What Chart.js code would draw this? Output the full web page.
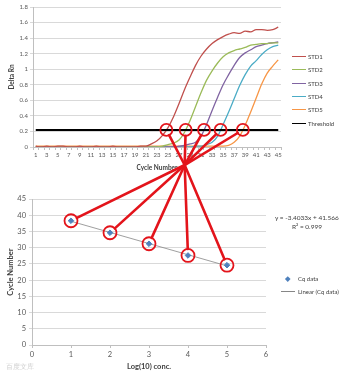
<!DOCTYPE html>
<html>
<head>
<meta charset="utf-8">
<script src="https://cdn.jsdelivr.net/npm/chart.js@4.4.1/dist/chart.umd.min.js"></script>
<style>
  body { margin: 0; background: #fff; font-family: Lato, "Open Sans", sans-serif; }
  #wrap { position: relative; width: 354px; height: 377px; overflow: hidden; }
  #amp { position: absolute; left: 0; top: 0; }
  #std { position: absolute; left: 0; top: 180px; }
  #marks { position: absolute; left: 0; top: 0; pointer-events: none; }
  .leg { position: absolute; font-size: 6px; color: #404040; line-height: 8px; white-space: nowrap; }
  .leg i { position: absolute; left: -16px; top: 3px; width: 14px; height: 0; border-top: 1.5px solid; }
  .eq { position: absolute; font-size: 6.5px; color: #404040; white-space: nowrap; line-height: 8px; }
  .mark { position: absolute; font-size: 7px; color: #d0d0d0; }
</style>
</head>
<body>
<div id="wrap">
  <canvas id="amp" width="354" height="180"></canvas>
  <canvas id="std" width="354" height="197"></canvas>
  <div id="ampLegend"></div>
  <div class="eq" style="left:275px;top:214px">y = -3.4033x + 41.566</div>
  <div class="eq" style="left:292px;top:223px">R² = 0.999</div>
  <div class="leg" style="left:298px;top:275px"><b style="position:absolute;left:-12px;top:2px;width:3.5px;height:3.5px;background:#4f81bd;transform:rotate(45deg)"></b>Cq data</div>
  <div class="leg" style="left:298px;top:288px"><i style="border-color:#868686;border-top-width:1px;left:-17px;width:14px"></i>Linear (Cq data)</div>
  <div class="mark" style="left:6px;top:362px">百度文库</div>
  <canvas id="marks" width="354" height="377"></canvas>
</div>
<script>
// amplification plot
const cycles = ['1','2','3','4','5','6','7','8','9','10','11','12','13','14','15','16','17','18','19','20','21','22','23',
  '24','25','26','27','28','29','30','31','32','33','34','35','36','37','38','39','40','41','42','43','44','45'];
const std1 = [0.01,0.00,0.01,0.00,0.01,0.01,0.00,0.00,0.01,0.00,0.00,0.01,0.00,0.00,0.01,0.00,0.00,0.00,0.00,0.01,0.01,0.04,0.08,
  0.15,0.25,0.39,0.56,0.74,0.90,1.05,1.17,1.26,1.33,1.38,1.42,1.45,1.47,1.46,1.49,1.48,1.51,1.51,1.50,1.51,1.54];
const std2 = [0.00,0.00,0.00,0.00,0.00,0.00,0.00,0.00,0.00,0.00,0.00,0.00,0.00,0.00,0.00,0.00,0.00,0.00,0.00,0.00,0.00,0.00,0.00,
  0.01,0.03,0.05,0.09,0.19,0.34,0.52,0.70,0.86,0.98,1.08,1.16,1.21,1.24,1.26,1.28,1.31,1.32,1.33,1.33,1.34,1.34];
const std3 = [0.00,0.00,0.00,0.00,0.00,0.00,0.00,0.00,0.00,0.00,0.00,0.00,0.00,0.00,0.00,0.00,0.00,0.00,0.00,0.00,0.00,0.00,0.00,
  0.00,0.00,0.00,0.01,0.02,0.04,0.06,0.14,0.29,0.47,0.64,0.80,0.93,1.05,1.15,1.21,1.25,1.29,1.31,1.33,1.34,1.35];
const std4 = [0.00,0.00,0.00,0.00,0.00,0.00,0.00,0.00,0.00,0.00,0.00,0.00,0.00,0.00,0.00,0.00,0.00,0.00,0.00,0.00,0.00,0.00,0.00,
  0.00,0.00,0.00,0.00,0.00,0.00,0.01,0.01,0.03,0.06,0.14,0.29,0.45,0.62,0.79,0.93,1.04,1.11,1.19,1.25,1.29,1.31];
const std5 = [0.01,0.01,0.01,0.01,0.01,0.01,0.01,0.01,0.01,0.01,0.01,0.01,0.01,0.01,0.01,0.01,0.01,0.01,0.01,0.01,0.01,0.01,0.01,
  0.01,0.01,0.01,0.01,0.01,0.01,0.01,0.01,0.01,0.01,0.01,0.01,0.02,0.06,0.14,0.28,0.45,0.63,0.81,0.95,1.04,1.12];
const threshold = 0.22;

// standard curve
const logConc = [1, 2, 3, 4, 5];
const cqData = [38.3, 34.6, 31.2, 27.6, 24.6];

const seriesNames = ['STD1','STD2','STD3','STD4','STD5'];
const seriesColors = ['#c0504d','#9bbb59','#8064a2','#4bacc6','#f79646'];
const tickColor = '#595959';
const font = 'Lato';

const stdSeries = [std1, std2, std3, std4, std5];
const ampSets = stdSeries.map((d, i) => ({
  label: seriesNames[i], data: d, borderColor: seriesColors[i], borderWidth: 1.3,
  pointRadius: 0, cubicInterpolationMode: 'monotone', order: 1
}));
ampSets.push({
  label: 'Threshold', data: cycles.map(() => threshold), borderColor: '#000',
  borderWidth: 2, pointRadius: 0, order: 0
});

// html legend for the top chart
const legBox = document.getElementById('ampLegend');
ampSets.forEach((s, i) => {
  const d = document.createElement('div');
  d.className = 'leg';
  d.style.left = '308px';
  d.style.top = (53 + i * 13.3) + 'px';
  d.innerHTML = '<i style="border-color:' + s.borderColor + '"></i>' + s.label;
  legBox.appendChild(d);
});

const amp = new Chart(document.getElementById('amp'), {
  type: 'line',
  data: { labels: cycles, datasets: ampSets },
  options: {
    responsive: false, animation: false,
    layout: { padding: { left: 0, top: 7, right: 73, bottom: 0 } },
    plugins: { legend: { display: false }, tooltip: { enabled: false } },
    scales: {
      x: {
        offset: true,
        afterFit: s => { s.height = 33; },
        border: { color: '#bfbfbf' },
        grid: { drawOnChartArea: false, offset: true, tickLength: 3, color: '#bfbfbf' },
        ticks: { autoSkip: false, maxRotation: 0, padding: 1, color: tickColor, font: { family: font, size: 6 },
          callback: (v, i) => i % 2 === 0 ? cycles[i] : '' },
        title: { display: true, text: 'Cycle Number', color: '#404040', padding: { top: 2, bottom: 8 },
          font: { family: font, size: 6.5, weight: 'bold' } }
      },
      y: {
        min: 0, max: 1.8,
        afterFit: s => { s.width = 33; },
        border: { color: '#bfbfbf' },
        grid: { color: '#d9d9d9', tickLength: 3 },
        ticks: { stepSize: 0.2, padding: 2, color: tickColor, font: { family: font, size: 6 },
          callback: v => String(+v.toFixed(1)) },
        title: { display: true, text: 'Delta Rn', color: '#404040', padding: { top: 8, bottom: 0 },
          font: { family: font, size: 6.5, weight: 'bold' } }
      }
    }
  }
});

// least-squares trend line through the Cq points
const n = logConc.length;
const mx = logConc.reduce((a, b) => a + b) / n;
const my = cqData.reduce((a, b) => a + b) / n;
let sxy = 0, sxx = 0;
logConc.forEach((x, i) => { sxy += (x - mx) * (cqData[i] - my); sxx += (x - mx) * (x - mx); });
const slope = sxy / sxx, icpt = my - slope * mx;
const trend = [logConc[0], logConc[n - 1]].map(x => ({ x, y: icpt + slope * x }));

const std = new Chart(document.getElementById('std'), {
  type: 'scatter',
  data: {
    datasets: [
      { label: 'Cq data', data: logConc.map((x, i) => ({ x, y: cqData[i] })), pointStyle: 'rectRot',
        pointRadius: 2.8, backgroundColor: '#4f81bd', borderColor: '#4f81bd', order: 0 },
      { label: 'Linear (Cq data)', data: trend, showLine: true, pointRadius: 0,
        borderColor: '#868686', borderWidth: 0.8, order: 1 }
    ]
  },
  options: {
    responsive: false, animation: false,
    layout: { padding: { left: 0, top: 19, right: 88, bottom: 0 } },
    plugins: { legend: { display: false }, tooltip: { enabled: false } },
    scales: {
      x: {
        type: 'linear', min: 0, max: 6,
        afterFit: s => { s.height = 32; },
        border: { color: '#bfbfbf' },
        grid: { drawOnChartArea: false, tickLength: 3, color: '#bfbfbf' },
        ticks: { stepSize: 1, padding: 2, color: tickColor, font: { family: font, size: 7.5 } },
        title: { display: true, text: 'Log(10) conc.', color: '#404040', padding: { top: 3, bottom: 6 },
          font: { family: font, size: 7.5, weight: 'bold' } }
      },
      y: {
        min: 0, max: 45,
        afterFit: s => { s.width = 32; },
        border: { color: '#bfbfbf' },
        grid: { color: '#d9d9d9', tickLength: 3 },
        ticks: { stepSize: 5, padding: 3, color: tickColor, font: { family: font, size: 7.5 } },
        title: { display: true, text: 'Cycle Number', color: '#404040', padding: { top: 6, bottom: 0 },
          font: { family: font, size: 7.5, weight: 'bold' } }
      }
    }
  }
});

// red annotation: threshold crossings linked to the standard curve points
const ctx = document.getElementById('marks').getContext('2d');
const stdTop = 180;
const tops = stdSeries.map(d => {
  let k = 0;
  while (k < d.length - 1 && !(d[k] < threshold && d[k + 1] >= threshold)) k++;
  const f = (threshold - d[k]) / (d[k + 1] - d[k]);
  return { x: amp.scales.x.getPixelForValue(k + f), y: amp.scales.y.getPixelForValue(threshold) };
});
const bots = logConc.map((x, i) => ({
  x: std.scales.x.getPixelForValue(x), y: stdTop + std.scales.y.getPixelForValue(cqData[i])
}));
const hub = { x: tops[1].x - 1, y: amp.chartArea.bottom + 18 };

ctx.strokeStyle = '#e3141b';
function edge(c, r) {
  const dx = hub.x - c.x, dy = hub.y - c.y, l = Math.hypot(dx, dy);
  return { x: c.x + dx / l * r, y: c.y + dy / l * r };
}
ctx.lineWidth = 2.6;
ctx.lineCap = 'round';
tops.forEach((t, i) => {
  const b = bots[n - 1 - i];
  const a = edge(t, 6), z = edge(b, 6.5);
  ctx.beginPath();
  ctx.moveTo(a.x, a.y); ctx.lineTo(hub.x, hub.y); ctx.lineTo(z.x, z.y);
  ctx.stroke();
});
ctx.lineWidth = 1.8;
tops.forEach(t => { ctx.beginPath(); ctx.arc(t.x, t.y, 6, 0, Math.PI * 2); ctx.stroke(); });
bots.forEach(b => { ctx.beginPath(); ctx.arc(b.x, b.y, 6.5, 0, Math.PI * 2); ctx.stroke(); });
</script>
</body>
</html>
